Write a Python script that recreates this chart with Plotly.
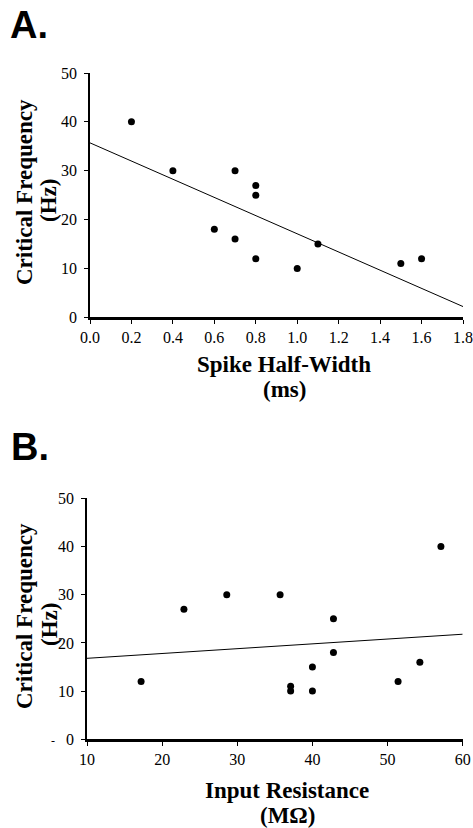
import plotly.graph_objects as go

# Panel A data
a_halfwidth = [0.2, 0.4, 0.6, 0.7, 0.7, 0.8, 0.8, 0.8, 1.0, 1.1, 1.5, 1.6]
a_freq = [40, 30, 18, 30, 16, 27, 25, 12, 10, 15, 11, 12]
a_trend_x = [0.0, 1.8]
a_trend_y = [35.7, 2.2]
a_xticks = [0.0, 0.2, 0.4, 0.6, 0.8, 1.0, 1.2, 1.4, 1.6, 1.8]

# Panel B data
b_resist = [17.2, 22.9, 28.6, 35.7, 37.1, 37.1, 40.0, 40.0, 42.8, 42.8, 51.4, 54.3, 57.1]
b_freq = [12, 27, 30, 30, 11, 10, 15, 10, 25, 18, 12, 16, 40]
b_trend_x = [10, 60]
b_trend_y = [16.8, 21.8]
b_xticks = [10, 20, 30, 40, 50, 60]

yticks = [0, 10, 20, 30, 40, 50]

W, H = 473, 828
def px(x): return x / W
def py(y): return 1 - y / H

fig = go.Figure()
fig.add_trace(go.Scatter(x=a_halfwidth, y=a_freq, mode="markers",
                         marker=dict(color="black", size=7), xaxis="x", yaxis="y",
                         cliponaxis=False, showlegend=False))
fig.add_trace(go.Scatter(x=a_trend_x, y=a_trend_y, mode="lines",
                         line=dict(color="black", width=1), xaxis="x", yaxis="y",
                         showlegend=False))
fig.add_trace(go.Scatter(x=b_resist, y=b_freq, mode="markers",
                         marker=dict(color="black", size=7), xaxis="x2", yaxis="y2",
                         cliponaxis=False, showlegend=False))
fig.add_trace(go.Scatter(x=b_trend_x, y=b_trend_y, mode="lines",
                         line=dict(color="black", width=1), xaxis="x2", yaxis="y2",
                         showlegend=False))

serif = "Liberation Serif"
tickfont = dict(family=serif, size=16, color="black")
titlefont = dict(family=serif, size=23, color="black")

common_x = dict(showgrid=False, zeroline=False, showline=True, linecolor="black",
                linewidth=2.5, ticks="outside", ticklen=4, tickcolor="black", tickwidth=1,
                tickfont=tickfont, automargin=False)
common_y = dict(showgrid=False, zeroline=False, showline=True, linecolor="black",
                linewidth=1.8, ticks="outside", ticklen=4, tickcolor="black", tickwidth=1,
                tickfont=tickfont, range=[0, 50], tickvals=yticks, automargin=False,
                ticklabelstandoff=4)

fig.update_layout(
    template="none",
    width=W, height=H,
    margin=dict(l=0, r=0, t=0, b=0, pad=0),
    paper_bgcolor="white", plot_bgcolor="white",
    font=dict(family=serif, color="black"),
    xaxis=dict(common_x, domain=[px(90), px(463)], range=[0, 1.8],
               tickvals=a_xticks, tickformat=".1f", anchor="y"),
    yaxis=dict(common_y, domain=[py(317.3), py(73)], anchor="x"),
    xaxis2=dict(common_x, domain=[px(87), px(462.7)], range=[10, 60],
                tickvals=b_xticks, anchor="y2"),
    yaxis2=dict(common_y, domain=[py(739.3), py(498.3)], anchor="x2"),
)

ann = []
def txt(text, x, y, font, angle=0):
    ann.append(dict(text=text, x=px(x), y=py(y), xref="paper", yref="paper",
                    textangle=angle, showarrow=False, font=font,
                    xanchor="center", yanchor="middle"))

labfont = dict(family="Liberation Sans", size=38, color="black")
ann.append(dict(text="<b>A.</b>", x=px(8), y=py(2), xref="paper", yref="paper",
                xanchor="left", yanchor="top", showarrow=False, font=labfont))
ann.append(dict(text="<b>B.</b>", x=px(9), y=py(424), xref="paper", yref="paper",
                xanchor="left", yanchor="top", showarrow=False, font=labfont))
# y titles (two lines each)
txt("<b>Critical Frequency</b>", 24, 192, titlefont, -90)
txt("<b>(Hz)</b>", 49, 201, titlefont, -90)
txt("<b>Critical Frequency</b>", 24, 616, titlefont, -90)
txt("<b>(Hz)</b>", 49, 625, titlefont, -90)
# x titles
txt("<b>Spike Half-Width</b>", 284, 365, titlefont)
txt("<b>(ms)</b>", 284, 389, titlefont)
txt("<b>Input Resistance</b>", 287, 790, titlefont)
txt("<b>(MΩ)</b>", 287, 815, titlefont)
# small stray dash left of the B-panel zero label
txt("-", 53, 741, dict(family=serif, size=12, color="black"))
fig.update_layout(annotations=ann)

fig.write_html("out.html", config={"displayModeBar": False},
               post_script="document.body.style.margin='0';document.body.style.overflow='hidden';")
